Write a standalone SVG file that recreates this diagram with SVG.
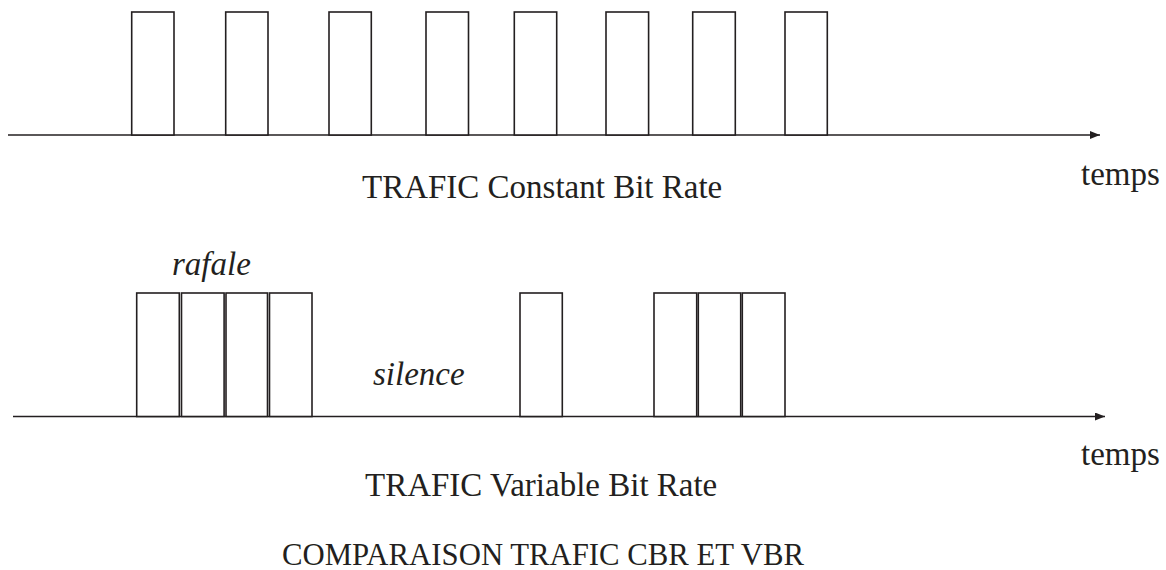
<svg xmlns="http://www.w3.org/2000/svg" width="1166" height="570" viewBox="0 0 1166 570">
<style>
.p{fill:#fff;stroke:#231f20;stroke-width:1.6}
.ax{stroke:#231f20;stroke-width:1.6;fill:none}
.t{font-family:"Liberation Serif",serif;font-size:33px;fill:#231f20}
.i{font-style:italic}
</style>
<defs>
<marker id="arr" viewBox="0 0 10 8" refX="10" refY="4" markerWidth="10" markerHeight="8" markerUnits="userSpaceOnUse" orient="auto">
<path d="M0,0 L10,4 L0,8 Z" fill="#231f20"/>
</marker>
</defs>
<rect width="1166" height="570" fill="#fff"/>
<g id="connectors">
<line class="ax" x1="8" y1="135" x2="1100" y2="135" marker-end="url(#arr)"/>
<line class="ax" x1="13" y1="416.5" x2="1105" y2="416.5" marker-end="url(#arr)"/>
</g>
<g id="cbr-pulses">
<rect class="p" x="131.7" y="12" width="42.3" height="123"/>
<rect class="p" x="225.7" y="12" width="42.3" height="123"/>
<rect class="p" x="329" y="12" width="42.3" height="123"/>
<rect class="p" x="426" y="12" width="42.5" height="123"/>
<rect class="p" x="514.3" y="12" width="42.4" height="123"/>
<rect class="p" x="606" y="12" width="42.6" height="123"/>
<rect class="p" x="692.7" y="12" width="42.6" height="123"/>
<rect class="p" x="785" y="12" width="42.3" height="123"/>
</g>
<g id="vbr-pulses">
<rect class="p" x="136.7" y="293" width="42.6" height="123.5"/>
<rect class="p" x="181.5" y="293" width="42.6" height="123.5"/>
<rect class="p" x="226" y="293" width="41.5" height="123.5"/>
<rect class="p" x="269.5" y="293" width="42.5" height="123.5"/>
<rect class="p" x="520" y="293" width="42.3" height="123.5"/>
<rect class="p" x="654" y="293" width="42.7" height="123.5"/>
<rect class="p" x="698.3" y="293" width="42.4" height="123.5"/>
<rect class="p" x="742.3" y="293" width="42.7" height="123.5"/>
</g>
<g id="labels">
<text class="t" x="362" y="198">TRAFIC Constant Bit Rate</text>
<text class="t" x="1081" y="185">temps</text>
<text class="t i" x="172" y="275">rafale</text>
<text class="t i" x="373" y="385">silence</text>
<text class="t" x="365" y="496">TRAFIC Variable Bit Rate</text>
<text class="t" x="1081" y="465">temps</text>
<text class="t" x="282" y="565" style="font-size:31px" textLength="522" lengthAdjust="spacingAndGlyphs">COMPARAISON TRAFIC CBR ET VBR</text>
</g>
</svg>
